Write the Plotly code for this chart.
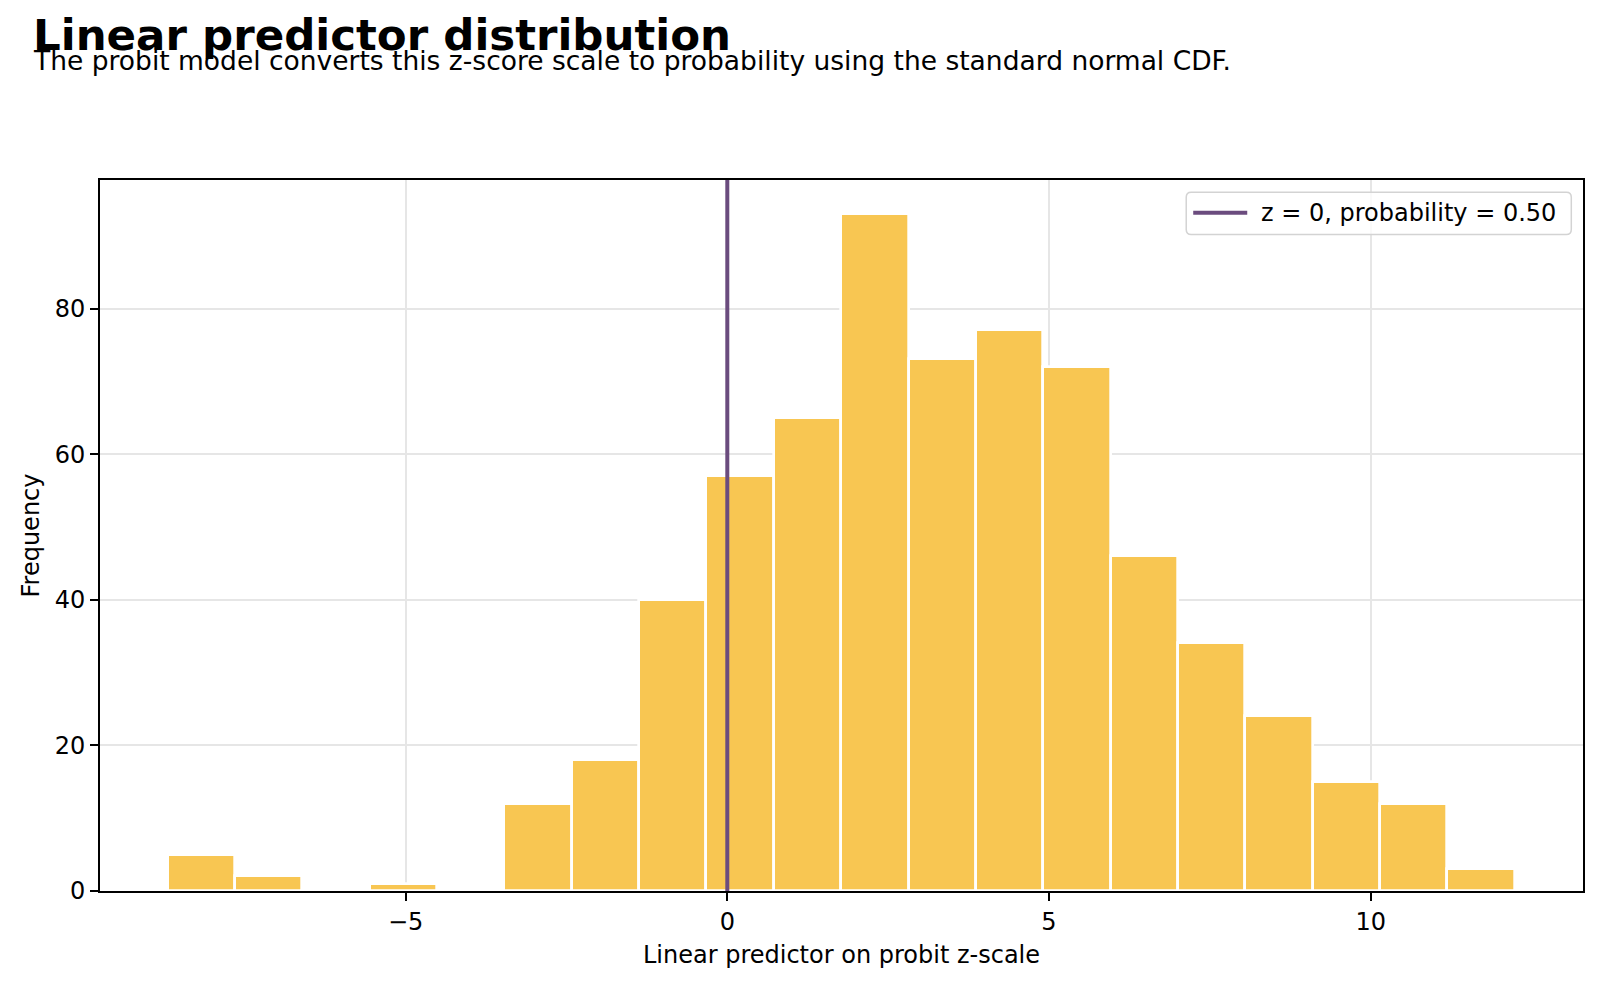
import plotly.graph_objects as go

# ---- data ----
title_text = "Linear predictor distribution"
subtitle_text = "The probit model converts this z-score scale to probability using the standard normal CDF."
x_label = "Linear predictor on probit z-scale"
y_label = "Frequency"
line_label = "z = 0, probability = 0.50"

bin_start = -8.70
bin_width = 1.047
counts = [5, 2, 0, 1, 0, 12, 18, 40, 57, 65, 93, 73, 77, 72, 46, 34, 24, 15, 12, 3]
ref_z = 0.0

x_ticks = [-5, 0, 5, 10]
x_tick_labels = ["\u22125", "0", "5", "10"]
y_ticks = [0, 20, 40, 60, 80]

# ---- derived ----
centers = [bin_start + (i + 0.5) * bin_width for i in range(len(counts))]
x_range = [-9.75, 13.30]
y_top = max(counts) * 1.05

W, H = 1600, 984
L, R, T, B = 100, 17.3, 179.5, 93
plot_w = W - L - R
plot_h = H - T - B

def xpaper(px):
    return (px - L) / plot_w

def ypaper(py):
    return (H - B - py) / plot_h

FONT = "DejaVu Sans"
LINE_COLOR = "#6B4C7E"

fig = go.Figure()
fig.add_trace(go.Bar(
    x=centers, y=counts, width=bin_width,
    marker=dict(color="#F8C652", line=dict(color="white", width=2.7)),
    showlegend=False, hoverinfo="x+y",
))
fig.add_trace(go.Scatter(
    x=[ref_z, ref_z], y=[0, y_top], mode="lines",
    line=dict(color=LINE_COLOR, width=4),
    name=line_label, showlegend=False,
))

axis_common = dict(
    showline=True, linecolor="black", linewidth=1.9, mirror=True,
    ticks="outside", ticklen=8, tickwidth=1.9, tickcolor="black",
    showgrid=True, gridcolor="#e6e6e6", gridwidth=1.5,
    zeroline=False,
    tickfont=dict(family=FONT, size=24, color="black"),
)

# custom legend box (rounded), matplotlib-like
bx0, bx1, by0, by1, rad = 1186, 1571, 191.7, 234, 5
def P(px, py):
    return f"{xpaper(px):.5f},{ypaper(py):.5f}"
legend_path = (
    f"M {P(bx0 + rad, by0)} L {P(bx1 - rad, by0)} Q {P(bx1, by0)} {P(bx1, by0 + rad)} "
    f"L {P(bx1, by1 - rad)} Q {P(bx1, by1)} {P(bx1 - rad, by1)} "
    f"L {P(bx0 + rad, by1)} Q {P(bx0, by1)} {P(bx0, by1 - rad)} "
    f"L {P(bx0, by0 + rad)} Q {P(bx0, by0)} {P(bx0 + rad, by0)} Z"
)
ly = (by0 + by1) / 2 - 0.5

fig.update_layout(
    width=W, height=H, autosize=False,
    margin=dict(l=L, r=R, t=T, b=B, pad=0),
    paper_bgcolor="white", plot_bgcolor="white",
    font=dict(family=FONT, size=24, color="black"),
    bargap=0,
    showlegend=False,
    xaxis=dict(
        range=x_range, tickmode="array", tickvals=x_ticks, ticktext=x_tick_labels,
        title=dict(text=x_label, font=dict(family=FONT, size=24, color="black"), standoff=11),
        **axis_common,
    ),
    yaxis=dict(
        range=[0, y_top], tickmode="array", tickvals=y_ticks,
        title=dict(text=y_label, font=dict(family=FONT, size=24, color="black"), standoff=8),
        **axis_common,
    ),
    shapes=[
        dict(type="path", xref="paper", yref="paper", path=legend_path,
             fillcolor="rgba(255,255,255,0.8)", line=dict(color="#d3d3d3", width=1.5),
             layer="above"),
        dict(type="line", xref="paper", yref="paper",
             x0=xpaper(1193), x1=xpaper(1247), y0=ypaper(ly), y1=ypaper(ly),
             line=dict(color=LINE_COLOR, width=4), layer="above"),
    ],
    annotations=[
        dict(text="<b>" + title_text + "</b>", xref="paper", yref="paper",
             x=xpaper(31), y=ypaper(34), xanchor="left", yanchor="middle",
             showarrow=False, font=dict(family=FONT, size=43.5, color="black")),
        dict(text=subtitle_text, xref="paper", yref="paper",
             x=xpaper(31), y=ypaper(60), xanchor="left", yanchor="middle",
             showarrow=False, font=dict(family=FONT, size=26.5, color="black")),
        dict(text=line_label, xref="paper", yref="paper",
             x=xpaper(1259), y=ypaper(ly), xanchor="left", yanchor="middle",
             showarrow=False, font=dict(family=FONT, size=24, color="black")),
    ],
)

fig.write_html("out.html")
